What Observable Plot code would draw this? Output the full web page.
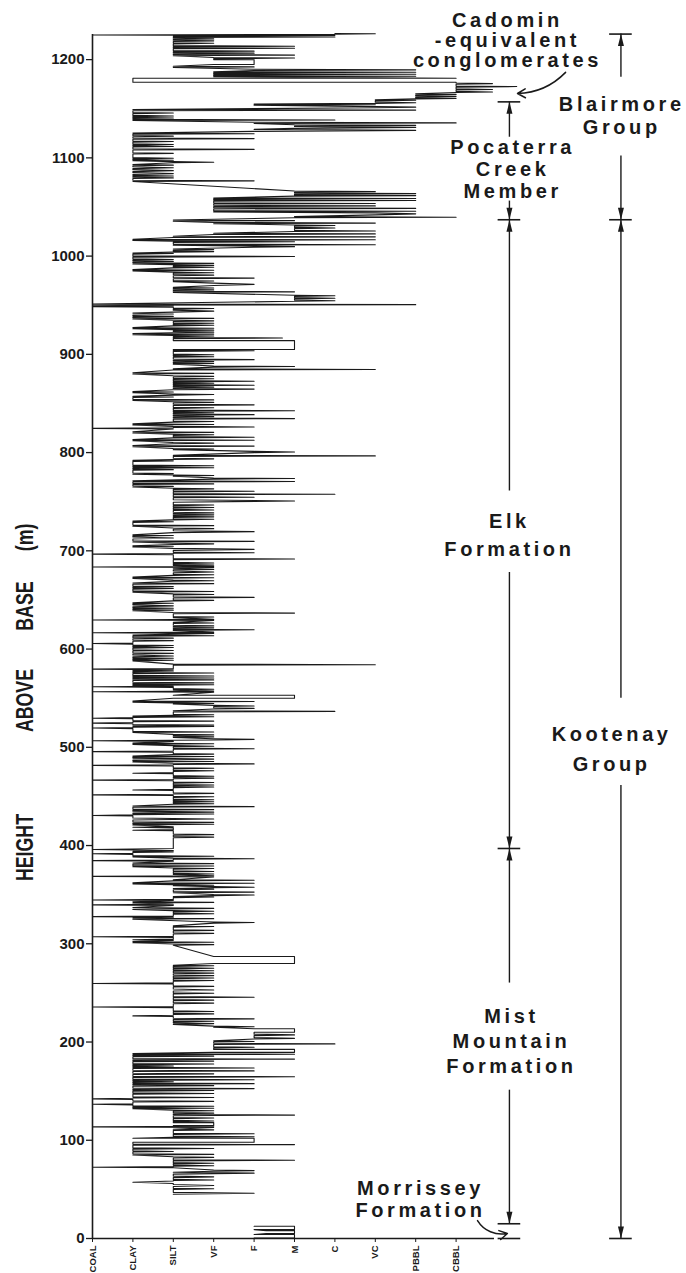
<!DOCTYPE html>
<html>
<head>
<meta charset="utf-8">
<script src="https://cdn.jsdelivr.net/npm/d3@7"></script>
<script src="https://cdn.jsdelivr.net/npm/@observablehq/plot@0.6"></script>
<style>
  html, body { margin: 0; padding: 0; background: #fff; }
  #chart { width: 686px; height: 1273px; overflow: hidden; }
</style>
</head>
<body>
<div id="chart"></div>
<script>
// ---------- categories / ticks ----------
const grainSizes = ["COAL", "CLAY", "SILT", "VF", "F", "M", "C", "VC", "PBBL", "CBBL"];
const heightTicks = [0, 100, 200, 300, 400, 500, 600, 700, 800, 900, 1000, 1100, 1200];

// ---------- grain-size log ----------
// each bed: [height above base (m), baseline grain index, bed grain index, thickness (m, optional)]
const morrisseyBeds = [
  [0.5, 4, 5, 3.5], [5, 4.3, 5, 3], [9, 4, 5, 3.5]
];

const mistMountainBeds = [
  [45, 2, 4, 2], [50, 2, 3], [53, 2, 3, 2], [56, 2, 1, 2.5], [59, 2, 3], [62, 2, 3, 1.5],
  [65.5, 2, 4, 2], [68.5, 3, 4], [72, 2, 0], [73.5, 2, 3], [76, 2, 3], [79, 2, 5],
  [82, 2, 3], [85, 1, 3], [88, 1, 2], [91, 1, 3], [95, 1, 5], [98, 1, 4, 4],
  [103, 2, 4], [106, 2, 4], [110, 2, 3], [113, 3, 0], [115, 2, 3, 3], [119, 2, 3],
  [122, 2, 3], [125, 2, 5], [127, 2, 3], [129.5, 2, 3], [132, 1, 3], [134, 1, 3],
  [136, 1, 0], [139, 1, 3], [141.5, 1, 0], [143, 1, 3], [147, 1, 3], [150, 1, 3],
  [152, 1, 4], [155, 1, 3], [157, 1, 4], [159, 1, 2], [161, 1, 4], [164, 1, 5],
  [167, 1, 3], [170, 1, 4], [173, 1, 4], [175, 1, 2], [177, 1, 3], [180, 1, 3],
  [182, 1, 5], [185, 1, 3], [187, 1, 5], [189.5, 3, 5, 3], [194, 3, 4], [197.5, 3, 6],
  [200, 3, 4], [203, 4, 5, 1.5], [206.5, 4, 5, 1.5], [210, 4, 5, 3.5], [215, 3, 4],
  [218, 2, 3, 1.5], [220.5, 2, 3], [223, 2, 4], [226, 2, 1], [228, 2, 3], [230.5, 2, 3],
  [235, 2, 0], [239, 2, 3], [242, 2, 3], [245, 2, 4], [249, 2, 3], [252, 2, 3, 2],
  [256, 2, 3], [259, 2, 0], [262, 2, 3], [264.5, 2, 3], [267, 2, 3], [269.5, 2, 3],
  [272, 2, 3], [274.5, 2, 3], [277, 2, 3], [280, 3, 5, 7], [298.5, 2, 3], [301, 1, 3],
  [303.5, 2, 1], [306.5, 2, 0], [310, 2, 3], [313, 2, 3], [317, 2, 3], [321, 3, 4],
  [325, 1, 3], [327, 2, 0], [330, 2, 3], [332.5, 2, 3], [335, 1, 3, 2], [339, 2, 0],
  [341.5, 1, 3], [344, 2, 0], [347, 2, 3], [349, 3, 4], [352, 2, 4], [355, 2, 3],
  [357, 3, 4], [359, 2, 3], [361, 1, 4], [364, 2, 4], [368, 3, 0], [370.5, 2, 3],
  [373, 2, 3], [376, 2, 3], [378.5, 1, 3], [381, 1, 3], [384, 2, 0], [386, 2, 4],
  [388.5, 1, 3], [391, 1, 0], [393, 1, 2], [395, 2, 0, 2]
];

const elkBeds = [
  [408, 2, 3], [410.5, 2, 3], [415, 2, 1], [418, 2, 1], [421, 1, 3], [423, 1, 3],
  [426, 1, 3, 2], [430, 1, 0], [431.5, 1, 3], [433, 1, 3, 2], [436, 1, 3], [439, 1, 4],
  [442, 2, 3], [444, 2, 3], [446, 2, 3], [449, 2, 3], [451, 2, 0], [452.5, 2, 3],
  [456, 2, 1], [459, 2, 3], [461, 2, 3], [463.5, 2, 3], [466, 2, 0], [468, 2, 3],
  [470, 2, 3], [473, 2, 1], [475.5, 2, 3], [478, 2, 3], [481, 2, 0], [482.5, 2, 4],
  [485, 1, 3], [487, 1, 3, 2], [490, 1, 3], [492.5, 2, 3], [495, 2, 0], [498, 2, 4],
  [500.5, 2, 3], [503, 1, 3], [506, 2, 0], [507.5, 3, 4], [510, 2, 3], [512, 2, 3],
  [515, 1, 3], [519, 1, 0], [520.5, 1, 3], [522, 1, 3], [524, 1, 0], [526, 1, 3],
  [529, 1, 0], [530.5, 1, 3], [532.5, 2, 3], [536, 2, 6], [539, 3, 4], [541.5, 3, 4],
  [544, 2, 3], [546, 1, 4], [550, 2, 5, 3], [556, 3, 0], [558.5, 2, 3], [561, 2, 0],
  [563, 1, 3], [565, 1, 3], [568, 1, 3], [570, 1, 3], [572, 1, 3], [575, 1, 3],
  [577, 1, 2], [579, 2, 0], [583.5, 2, 7], [588, 1, 2], [590, 1, 2], [592, 1, 2, 2],
  [595, 1, 2], [598, 1, 2], [601, 1, 2], [603, 1, 2], [605, 1, 0], [608, 1, 2],
  [610.5, 1, 2], [613, 1, 3], [616, 3, 0], [619, 2, 4], [621, 2, 3], [623, 2, 3],
  [626, 2, 3], [629, 3, 0], [632, 2, 3], [636, 2, 5], [639, 1, 2], [641, 1, 2],
  [643, 1, 2, 2], [646, 1, 2], [649, 2, 3], [652, 2, 4], [655, 2, 3], [658, 1, 3],
  [661, 1, 2], [663, 1, 2], [666, 1, 3], [669, 2, 3], [672, 1, 3], [675, 2, 3],
  [677.5, 2, 3, 2], [680.5, 2, 3], [683, 3, 0], [685, 2, 3], [687, 2, 3], [691, 2, 5],
  [696, 2, 0], [697.5, 2, 4], [700.5, 2, 4, 2], [704, 1, 2], [706.5, 2, 3], [709, 1, 4],
  [712, 1, 2, 2], [715, 1, 2], [718.5, 2, 4, 2], [722, 2, 3], [725, 1, 3], [729, 1, 2],
  [731.5, 2, 3], [734, 2, 3], [736, 2, 3], [738, 2, 3], [741, 2, 3], [743.5, 2, 3],
  [746, 2, 3], [749.5, 2, 5, 2.5], [754, 2, 4], [757, 2, 6], [760, 2, 4], [762.5, 2, 3],
  [765, 1, 2], [767.5, 1, 3], [770, 1, 5], [773, 3, 5], [776, 2, 3], [778, 1, 2],
  [782, 1, 2], [784, 1, 3], [786, 1, 3], [791, 1, 2], [793, 2, 3], [796, 2, 7],
  [800, 4, 5], [803, 2, 3], [806, 1, 4], [809, 2, 3], [812, 1, 4], [815, 2, 4],
  [817.5, 2, 3], [820, 1, 3], [824, 2, 0], [825.5, 2, 4], [828, 1, 3], [831, 2, 3],
  [834, 2, 5], [836, 2, 3], [838, 2, 4], [840, 2, 3], [842, 2, 5], [845, 2, 3],
  [848, 2, 4], [850.5, 2, 3], [853, 1, 3], [856, 1, 2], [858.5, 2, 3], [861, 1, 2],
  [864, 2, 4], [866, 2, 3], [868, 2, 4], [870, 2, 3], [872, 2, 4], [874.5, 2, 3],
  [877, 2, 3], [880, 1, 3], [884, 2, 7], [887, 3, 5], [890, 2, 3], [892, 2, 3],
  [894, 2, 4], [897, 2, 3], [899, 2, 3], [903, 2, 4], [905, 2, 5, 9], [916, 2, 4.7],
  [918, 2, 3], [920, 1, 3], [922, 2, 3], [924, 2, 3], [926, 1, 3], [929, 2, 3],
  [931, 2, 3], [933.5, 2, 3], [936, 1, 3], [938, 1, 2], [940, 1, 2, 2], [943, 2, 3, 2],
  [946, 2, 3], [948, 2, 0], [950, 0, 8], [954, 5, 6], [956.5, 5, 6], [959, 5, 6],
  [963, 2, 5], [965, 2, 3], [967, 2, 3], [970, 3, 4, 2.5], [974, 2, 3], [977, 2, 4],
  [980, 2, 3], [982.5, 2, 3], [985, 1, 3], [988, 2, 3], [990, 2, 3], [992, 1, 3],
  [994, 1, 2], [996, 1, 2], [999, 1, 5], [1002, 1, 2], [1004, 2, 3], [1006, 2, 3],
  [1009, 4, 5], [1011, 2, 7], [1014, 2, 5], [1016, 1, 7], [1019, 2, 7], [1022, 3, 7],
  [1025, 5, 7], [1028, 5, 6], [1030.5, 5, 6], [1033, 3, 7], [1035.5, 2, 5]
];

const pocaterraBeds = [
  [1039, 5, 9], [1042, 7, 8, 2], [1045, 3, 8], [1048, 3, 8], [1050.5, 3, 7], [1053, 3, 7],
  [1056, 3, 8], [1058, 3, 8], [1061, 5, 8], [1063, 5, 8], [1065, 5, 7], [1076, 1, 4],
  [1079, 1, 2], [1081, 1, 2], [1083, 1, 2, 2], [1086, 1, 2, 2], [1089, 1, 2, 2], [1092, 1, 2],
  [1095, 2, 3], [1097, 1, 2], [1099, 1, 2], [1104, 1, 2], [1108, 1, 4], [1111, 1, 2],
  [1113, 1, 2], [1116, 1, 2], [1119, 1, 4], [1121.5, 1, 2], [1124, 1, 4], [1127, 4, 8, 2],
  [1130, 5, 8, 2], [1132.5, 5, 8], [1135, 4, 9], [1138, 1, 6], [1140, 1, 2], [1142, 1, 2],
  [1145, 1, 2], [1148, 1, 8], [1151, 7, 8], [1153.5, 4, 7], [1155.5, 7, 8]
];

const upperBlairmoreBeds = [
  [1158, 7, 8], [1160, 8, 9], [1162, 8, 9], [1164, 8, 9], [1166.5, 9, 9.9], [1169, 9, 9.9],
  [1172, 9, 10.5], [1175, 9, 9.9], [1177, 9, 1, 4], [1182.5, 3, 8], [1184.5, 3, 8],
  [1186.5, 3, 8], [1189, 4, 8], [1192, 2, 4], [1195, 3, 4, 5], [1201, 3, 5], [1204, 2, 5],
  [1206, 2, 4], [1208, 2, 4], [1211, 2, 5], [1213, 2, 5], [1216, 2, 3], [1218.5, 2, 3],
  [1220.5, 2, 3], [1222.5, 2, 6], [1224.5, 6, 0, 1.2], [1226, 6, 7, 0.6]
];

// ---------- stratigraphic units ----------
const formationBoundaries = [0, 15, 397, 1037, 1157];
const groupBoundaries = [0, 1037, 1226];
const formationNames = ["Morrissey\nFormation", "Mist\nMountain\nFormation", "Elk\nFormation",
                        "Pocaterra\nCreek\nMember", "Cadomin\n-equivalent\nconglomerates"];
const groupNames = ["Kootenay\nGroup", "Blairmore\nGroup"];
const axisTitleWords = ["HEIGHT", "ABOVE", "BASE", "(m)"];

// ---------- build the trace ----------
function traceOf(beds, seg) {
  const pts = [];
  for (const [h, from, to, t = 1.2] of beds) {
    if (t >= 3) {
      pts.push({h, g: from, seg}, {h, g: to, seg}, {h: h + t, g: to, seg}, {h: h + t, g: from, seg});
    } else {
      pts.push({h, g: from, seg}, {h: h + t / 2, g: to, seg}, {h: h + t, g: from, seg});
    }
  }
  return pts;
}
const trace = [
  ...traceOf(morrisseyBeds, "lower"),
  ...traceOf([...mistMountainBeds, ...elkBeds, ...pocaterraBeds, ...upperBlairmoreBeds], "upper")
];

// annotation columns (grain-axis units)
const IN = 10.32, OUT = 13.08;
const innerRuns = [
  {from: 1121, to: formationBoundaries[4]}, {from: 1056, to: formationBoundaries[3]},
  {from: 761, to: formationBoundaries[3]}, {from: 678, to: formationBoundaries[2]},
  {from: 260, to: formationBoundaries[2]}, {from: 151, to: formationBoundaries[1]}
];
const outerRuns = [
  {from: 1182, to: groupBoundaries[2]}, {from: 1102, to: groupBoundaries[1]},
  {from: 550, to: groupBoundaries[1]}, {from: 461, to: groupBoundaries[0]}
];
const titleWords = axisTitleWords.map((w, i) => ({w, h: [398, 547.6, 643.8, 713.6][i]}));

const FONT = "'Liberation Sans', Arial, Helvetica, sans-serif";
const INK = "#1a1a1a";
const labelOpts = {fontSize: 20, fontWeight: "bold", fontFamily: FONT, fill: INK};

const chart = Plot.plot({
  width: 686,
  height: 1273,
  marginLeft: 92,
  marginRight: 0,
  marginTop: 10,
  marginBottom: 35,
  x: {domain: [0, 14.703]},
  y: {domain: [0, 1250]},
  style: {background: "#fff", fontFamily: FONT, color: INK},
  marks: [
    Plot.axisY({ticks: heightTicks, tickFormat: d => String(d), tickSize: 6, tickPadding: 2,
                fontSize: 15, fontWeight: "bold", label: null, strokeWidth: 1.3}),
    Plot.axisX({ticks: d3.range(grainSizes.length), tickFormat: i => grainSizes[i], tickRotate: -90,
                tickSize: 4, tickPadding: 3, fontSize: 9.5, fontWeight: "bold", label: null}),
    Plot.ruleX([0], {y1: 0, y2: 1225.5, stroke: INK, strokeWidth: 1.6}),
    Plot.ruleY([0], {x1: 0, x2: 9.95, stroke: INK, strokeWidth: 1.6}),
    Plot.line(trace, {x: "g", y: "h", z: "seg", stroke: INK, strokeWidth: 1.1, curve: "linear"}),

    // unit boundaries
    Plot.ruleY(formationBoundaries, {x1: IN - 0.28, x2: IN + 0.28, stroke: INK, strokeWidth: 1.6}),
    Plot.ruleY(groupBoundaries, {x1: OUT - 0.28, x2: OUT + 0.28, stroke: INK, strokeWidth: 1.6}),
    Plot.ruleX(innerRuns, {x: IN, y1: "from", y2: "to", stroke: INK, strokeWidth: 1.4}),
    Plot.ruleX(outerRuns, {x: OUT, y1: "from", y2: "to", stroke: INK, strokeWidth: 1.4}),
    Plot.vector(innerRuns, {x: IN, y: "to", rotate: d => d.to > d.from ? 0 : 180, length: 12, r: 3,
                            shape: "spike", anchor: "end", fill: INK, stroke: "none"}),
    Plot.vector(outerRuns, {x: OUT, y: "to", rotate: d => d.to > d.from ? 0 : 180, length: 12, r: 3,
                            shape: "spike", anchor: "end", fill: INK, stroke: "none"}),

    // curved pointers
    Plot.arrow([{x1: 11.71, y1: 1187, x2: 10.52, y2: 1165.5}], {x1: "x1", y1: "y1", x2: "x2", y2: "y2",
               bend: 22, headLength: 9, strokeWidth: 1.5, stroke: INK}),
    Plot.arrow([{x1: 9.53, y1: 18.3, x2: 10.27, y2: 5.1}], {x1: "x1", y1: "y1", x2: "x2", y2: "y2",
               bend: -35, headLength: 9, strokeWidth: 1.5, stroke: INK}),

    // unit labels
    Plot.text([{t: formationNames[4], g: 10.27, h: 1219.5}], {x: "g", y: "h", text: "t", lineHeight: 1.0, ...labelOpts}),
    Plot.text([{t: formationNames[3], g: 10.4, h: 1088.5}], {x: "g", y: "h", text: "t", lineHeight: 1.1, ...labelOpts}),
    Plot.text([{t: formationNames[2], g: 10.32, h: 718.6}], {x: "g", y: "h", text: "t", lineHeight: 1.4, ...labelOpts}),
    Plot.text([{t: formationNames[1], g: 10.37, h: 201.9}], {x: "g", y: "h", text: "t", lineHeight: 1.25, ...labelOpts}),
    Plot.text([{t: formationNames[0], g: 8.12, h: 40.1}], {x: "g", y: "h", text: "t", lineHeight: 1.1, ...labelOpts}),
    Plot.text([{t: groupNames[1], g: 13.1, h: 1143}], {x: "g", y: "h", text: "t", lineHeight: 1.15, ...labelOpts}),
    Plot.text([{t: groupNames[0], g: 12.85, h: 501.2}], {x: "g", y: "h", text: "t", lineHeight: 1.5, ...labelOpts}),

    // axis title (one word at a time, condensed below)
    Plot.text(titleWords, {x: -1.66, y: "h", text: "w", rotate: -90, fontSize: 24, fontWeight: "bold",
              fontFamily: FONT, fill: INK})
  ]
});

chart.querySelectorAll('g[aria-label="text"]').forEach(g => {
  const fs = g.getAttribute("font-size");
  if (fs === "20") g.setAttribute("letter-spacing", "3.6");
  if (fs === "24") g.querySelectorAll("text").forEach(t => {
    t.setAttribute("transform", (t.getAttribute("transform") || "") + " scale(0.74,1)");
  });
});
document.getElementById("chart").appendChild(chart);
</script>
</body>
</html>
